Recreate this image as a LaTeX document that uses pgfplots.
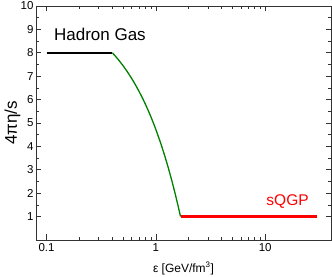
\documentclass[border=0pt]{standalone}
\usepackage{pgfplots}
\pgfplotsset{compat=1.18}
\usepackage{fontspec}
\setmainfont{Liberation Sans}
\begin{document}
\begin{tikzpicture}
\begin{axis}[
  scale only axis,
  width=295pt, height=234pt,
  xmode=log, xmin=0.08, xmax=40,
  ymin=0, ymax=10,
  xtick={0.1,1,10}, xticklabels={0.1,1,10},
  ytick={1,2,3,4,5,6,7,8,9,10},
  minor y tick num=1,
  tick align=inside,
  major tick length=5.5pt, minor tick length=3pt,
  axis line style={line width=0.9pt, black!80},
  every tick/.style={black!80, line width=0.6pt},
  /pgf/number format/assume math mode=true,
  tick label style={font=\fontsize{11.5}{12}\selectfont},
  yticklabel style={xshift=1pt},
  xlabel={\fontsize{12}{13}\selectfont ε [GeV/fm\textsuperscript{3}]},
  ylabel={\fontsize{17}{18}\selectfont 4πη/s},
  xlabel style={at={(axis description cs:0.5,-0.137)}, anchor=base},
  ylabel style={at={(axis description cs:-0.08,0.5)}, anchor=center},
  clip=false,
]
\coordinate (SW) at (rel axis cs:0,0);
\coordinate (NE) at (rel axis cs:1,1);
\addplot[black, line width=2.2pt] coordinates {(0.1,8) (0.4,8)};
\addplot[green!50!black, line width=1.3pt] coordinates {
 (0.4,8) (0.45,7.727) (0.5,7.453) (0.55,7.180) (0.6,6.906) (0.65,6.633) (0.7,6.359)
 (0.75,6.086) (0.8,5.813) (0.85,5.539) (0.9,5.266) (0.95,4.992) (1.0,4.719)
 (1.1,4.172) (1.2,3.625) (1.3,3.078) (1.4,2.531) (1.5,1.984) (1.6,1.438) (1.68,1.0)};
\addplot[red, line width=2.2pt] coordinates {(1.68,1) (30,1)};
\node[anchor=base west, inner sep=0pt, font=\fontsize{17}{18}\selectfont] at (axis cs:0.1166,8.52) {Hadron Gas};
\node[anchor=base east, inner sep=0pt, text=red, font=\fontsize{15.5}{16}\selectfont] at (axis cs:25.1,1.47) {sQGP};
\end{axis}
\pgfresetboundingbox
\path ([shift={(-36pt,-37pt)}]SW) rectangle ([shift={(1pt,6pt)}]NE);
\end{tikzpicture}
\end{document}
